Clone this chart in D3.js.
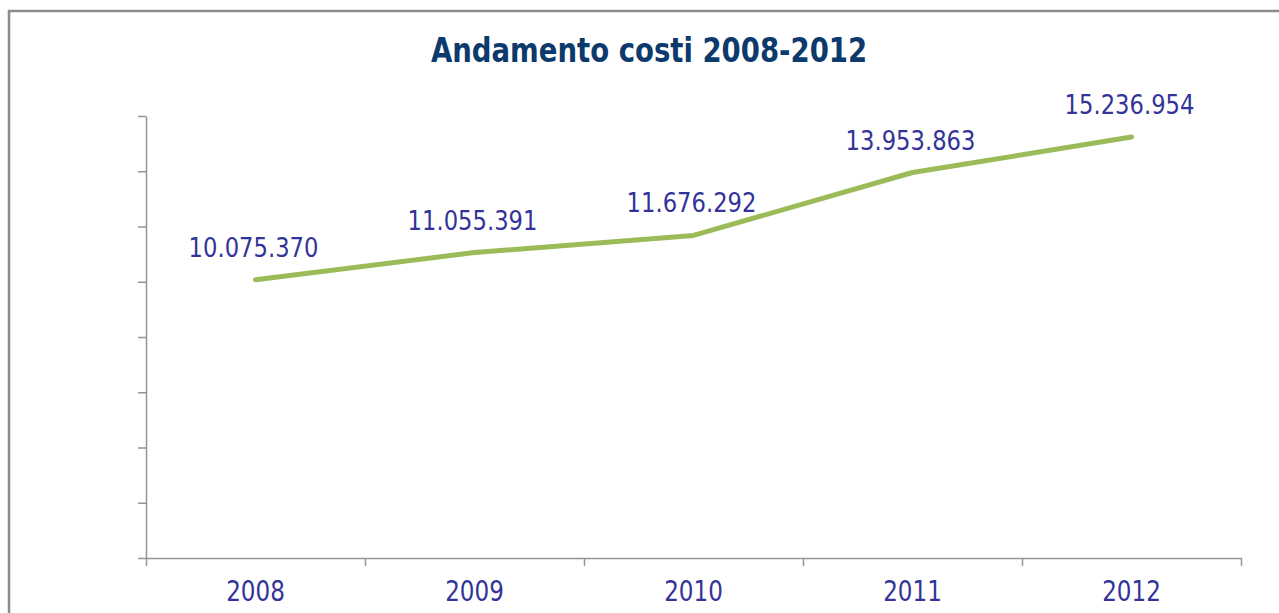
<!DOCTYPE html>
<html>
<head>
<meta charset="utf-8">
<script src="https://cdn.jsdelivr.net/npm/d3@7"></script>
<style>
  html, body { margin: 0; padding: 0; background: #fff; overflow: hidden; }
  svg { display: block; }
</style>
</head>
<body>
<svg id="chart" width="1279" height="613"></svg>
<script>
// Annual costs, 2008-2012
const years = ["2008", "2009", "2010", "2011", "2012"];
const costs = [10075370, 11055391, 11676292, 13953863, 15236954];
const yTickValues = [0, 2000000, 4000000, 6000000, 8000000, 10000000, 12000000, 14000000, 16000000];
const chartTitle = "Andamento costi 2008-2012";

const W = 1279, H = 613;
const plot = { left: 146, right: 1241, top: 116, bottom: 558 };
const fontFamily = "'DejaVu Sans', sans-serif";
// horizontal squeeze to give the wide sans a Tahoma-like proportion
const squeeze = 0.84;

const it = d3.formatLocale({ decimal: ",", thousands: ".", grouping: [3], currency: ["€", ""] });
const fmt = it.format(",d");

const svg = d3.select("#chart");

// outer frame of the chart area
svg.append("rect")
  .attr("x", 9).attr("y", 11)
  .attr("width", W + 20).attr("height", H + 20)
  .attr("fill", "#fff")
  .attr("stroke", "#8c8c8c")
  .attr("stroke-width", 2.5);

// title
svg.append("text")
  .attr("transform", "translate(649,62) scale(0.81,1)")
  .attr("text-anchor", "middle")
  .attr("font-family", fontFamily)
  .attr("font-weight", "bold")
  .attr("font-size", 34)
  .attr("fill", "#0d3a6c")
  .text(chartTitle);

const x = d3.scaleBand().domain(years).range([plot.left, plot.right]);
const xEdges = d3.scaleLinear().domain([0, years.length]).range([plot.left, plot.right]);
const y = d3.scaleLinear().domain([0, d3.max(yTickValues)]).range([plot.bottom, plot.top]);

const axisColor = "#959595";

// y axis: ticks only, no labels
const gy = svg.append("g")
  .attr("transform", `translate(${plot.left},0)`)
  .call(d3.axisLeft(y).tickValues(yTickValues).tickSize(8).tickSizeOuter(0).tickFormat(""));
gy.selectAll("path, line").attr("stroke", axisColor).attr("stroke-width", 1.5);

// x axis: tick marks on category boundaries
const gxTicks = svg.append("g")
  .attr("transform", `translate(0,${plot.bottom})`)
  .call(d3.axisBottom(xEdges).tickValues(d3.range(years.length + 1)).tickSize(8).tickSizeOuter(0).tickFormat(""));
gxTicks.selectAll("path, line").attr("stroke", axisColor).attr("stroke-width", 1.5);

// x axis category labels
const gx = svg.append("g")
  .attr("transform", `translate(0,${plot.bottom})`)
  .call(d3.axisBottom(x).tickSize(0).tickPadding(23));
gx.select(".domain").remove();
gx.selectAll("text")
  .attr("font-family", fontFamily)
  .attr("font-size", 27.5)
  .attr("fill", "#333399")
  .attr("transform", `scale(${squeeze},1)`);

// cost line
const cx = (i) => x(years[i]) + x.bandwidth() / 2;
const line = d3.line()
  .x((d, i) => cx(i))
  .y(d => y(d));

svg.append("path")
  .datum(costs)
  .attr("d", line)
  .attr("fill", "none")
  .attr("stroke", "#9bbb59")
  .attr("stroke-width", 5)
  .attr("stroke-linejoin", "round")
  .attr("stroke-linecap", "round");

// value labels
svg.append("g")
  .selectAll("text")
  .data(costs)
  .join("text")
  .attr("transform", (d, i) => `translate(${cx(i) - 2},${y(d) - 23}) scale(${squeeze},1)`)
  .attr("text-anchor", "middle")
  .attr("font-family", fontFamily)
  .attr("font-size", 27)
  .attr("fill", "#333399")
  .text(d => fmt(d));
</script>
</body>
</html>
